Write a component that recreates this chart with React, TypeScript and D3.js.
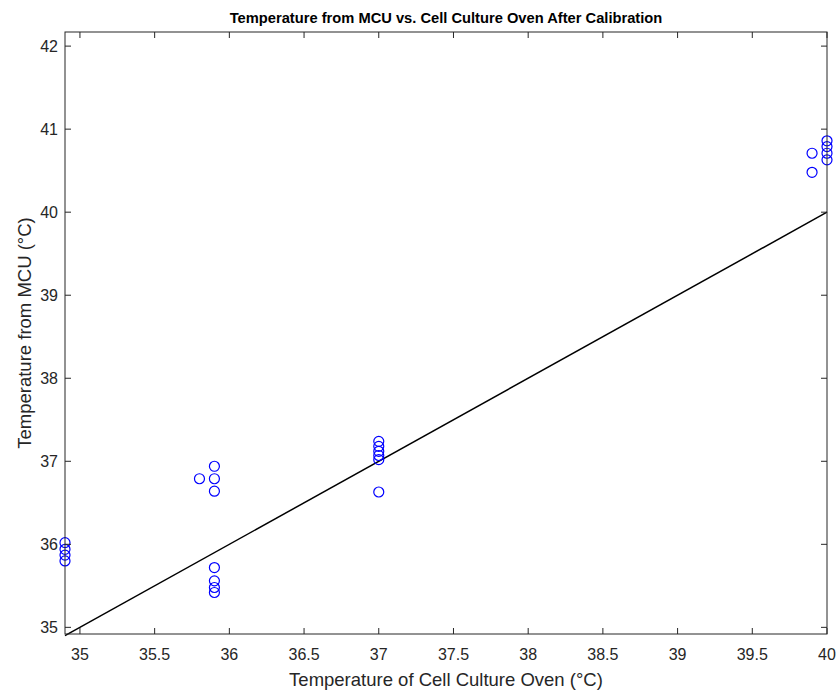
import React from "react";
import * as d3 from "d3";

const xTicks = [35, 35.5, 36, 36.5, 37, 37.5, 38, 38.5, 39, 39.5, 40];
const yTicks = [35, 36, 37, 38, 39, 40, 41, 42];
const ovenTemp = [
  34.9, 34.9, 34.9, 34.9,
  35.8, 35.9, 35.9, 35.9,
  35.9, 35.9, 35.9, 35.9,
  37, 37, 37, 37, 37, 37,
  39.9, 39.9,
  40, 40, 40, 40,
];
const mcuTemp = [
  36.02, 35.94, 35.87, 35.8,
  36.79, 36.94, 36.79, 36.64,
  35.72, 35.56, 35.48, 35.42,
  37.24, 37.18, 37.12, 37.07, 37.02, 36.63,
  40.71, 40.48,
  40.86, 40.79, 40.71, 40.63,
];
const fitLine = [34.9, 40];

const W = 838;
const H = 691;
const m = { left: 65, right: 827, top: 32, bottom: 634 };
const axisColor = "#262626";
const font = "'Liberation Sans', Arial, Helvetica, sans-serif";

export default function App() {
  const x = d3.scaleLinear().domain([34.9, 40]).range([m.left, m.right]);
  const y = d3.scaleLinear().domain([34.92, 42.17]).range([m.bottom, m.top]);
  const line = d3
    .line<number>()
    .x((d) => x(d))
    .y((d) => y(d));
  const tl = 6;
  return (
    <svg
      width={W}
      height={H}
      style={{ position: "absolute", left: 0, top: 0, background: "#fff" }}
      fontFamily={font}
    >
      <rect x={0} y={0} width={W} height={H} fill="#fff" />
      <text
        x={(m.left + m.right) / 2}
        y={23}
        textAnchor="middle"
        fontSize={14.7}
        fontWeight="bold"
        fill="#000"
      >
        Temperature from MCU vs. Cell Culture Oven After Calibration
      </text>
      <path d={line(fitLine) || ""} stroke="#000" strokeWidth={1.5} fill="none" />
      {ovenTemp.map((v, i) => (
        <circle
          key={i}
          cx={x(v)}
          cy={y(mcuTemp[i])}
          r={5}
          fill="none"
          stroke="#0000ff"
          strokeWidth={1.2}
        />
      ))}
      <rect
        x={m.left}
        y={m.top}
        width={m.right - m.left}
        height={m.bottom - m.top}
        fill="none"
        stroke={axisColor}
        strokeWidth={1}
      />
      {xTicks.map((t) => (
        <g key={"x" + t}>
          <line x1={x(t)} x2={x(t)} y1={m.bottom} y2={m.bottom - tl} stroke={axisColor} />
          <line x1={x(t)} x2={x(t)} y1={m.top} y2={m.top + tl} stroke={axisColor} />
          <text
            x={x(t)}
            y={m.bottom + 26}
            textAnchor="middle"
            fontSize={16}
            fill={axisColor}
          >
            {t}
          </text>
        </g>
      ))}
      {yTicks.map((t) => (
        <g key={"y" + t}>
          <line x1={m.left} x2={m.left + tl} y1={y(t)} y2={y(t)} stroke={axisColor} />
          <line x1={m.right} x2={m.right - tl} y1={y(t)} y2={y(t)} stroke={axisColor} />
          <text
            x={m.left - 7}
            y={y(t) + 6}
            textAnchor="end"
            fontSize={16}
            fill={axisColor}
          >
            {t}
          </text>
        </g>
      ))}
      <text
        x={(m.left + m.right) / 2}
        y={686}
        textAnchor="middle"
        fontSize={18.5}
        fill={axisColor}
      >
        Temperature of Cell Culture Oven (°C)
      </text>
      <text
        transform={`translate(31, ${(m.top + m.bottom) / 2}) rotate(-90)`}
        textAnchor="middle"
        fontSize={18.5}
        fill={axisColor}
      >
        Temperature from MCU (°C)
      </text>
    </svg>
  );
}
